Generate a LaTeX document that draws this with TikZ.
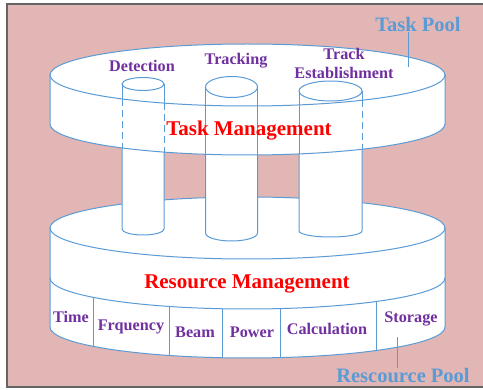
\documentclass[tikz,border=0pt]{standalone}
\usepackage{fontspec}
\setmainfont{Liberation Serif}
\definecolor{poolblue}{RGB}{91,155,213}
\definecolor{bgpink}{RGB}{226,182,180}
\definecolor{itempurple}{RGB}{112,48,160}
\definecolor{framegray}{RGB}{100,100,100}
\begin{document}
\begin{tikzpicture}[
    x=1pt, y=-1pt,
    rim/.style={draw=poolblue, line width=1pt},
    hid/.style={rim, dash pattern=on 7pt off 4pt},
    vis/.style={rim},
    item/.style={font=\bfseries\fontsize{16.2}{17}\selectfont, text=itempurple, inner sep=1pt},
    mgmt/.style={font=\bfseries\fontsize{21}{22}\selectfont, text=red},
    pool/.style={font=\bfseries\fontsize{20.5}{22}\selectfont, text=poolblue, inner sep=1pt}
]
\useasboundingbox (0,0) rectangle (483,390);

% Background and frame
\fill[white] (0,0) rectangle (483,390);
\fill[bgpink, draw=framegray, line width=1.5pt] (7,4) rectangle (490,387);

% Resource pool disk
\fill[white] (50,228) arc[start angle=180, end angle=360, x radius=197.5, y radius=31]
    -- (445,327) arc[start angle=0, end angle=180, x radius=197.5, y radius=31] -- cycle;
\draw[rim] (247.5,228) ellipse[x radius=197.5, y radius=31];
\draw[rim] (50,228) -- (50,327) arc[start angle=180, end angle=0, x radius=197.5, y radius=31] -- (445,228);
\draw[rim] (50,278) arc[start angle=180, end angle=0, x radius=197.5, y radius=31];
\foreach \x in {93,169,222,280,376} {
    \pgfmathsetmacro\dy{31*sqrt(1-((\x-247.5)/197.5)^2)}
    \draw[rim] (\x,278+\dy) -- (\x,327+\dy);
}

% Cylinders
\foreach \cx/\rx/\ty/\tr/\by/\br in {143/21/84/6.5/229/6, 231.5/26/87/10.5/233/8, 330.5/31.5/91/10/231/6} {
    \filldraw[rim, fill=white] (\cx-\rx,\ty) -- (\cx-\rx,\by)
        arc[start angle=180, end angle=0, x radius=\rx, y radius=\br] -- (\cx+\rx,\ty);
}

% Task pool disk
\fill[white] (50,75) arc[start angle=180, end angle=360, x radius=197.5, y radius=31]
    -- (445,124) arc[start angle=0, end angle=180, x radius=197.5, y radius=31] -- cycle;
\draw[rim] (247.5,75) ellipse[x radius=197.5, y radius=31];
\draw[rim] (50,75) -- (50,124) arc[start angle=180, end angle=0, x radius=197.5, y radius=31] -- (445,75);

% Cylinder tops and sides through the disk
\foreach \cx/\rx/\ty/\tr in {143/21/84/6.5, 231.5/26/87/10.5, 330.5/31.5/91/10}
    \filldraw[rim, fill=white] (\cx,\ty) ellipse[x radius=\rx, y radius=\tr];
\foreach \sx/\ty/\sty in {122/84/hid, 164/84/hid, 205.5/87/vis, 257.5/87/vis, 299/91/vis, 362/91/hid} {
    \pgfmathsetmacro\dy{31*sqrt(1-((\sx-247.5)/197.5)^2)}
    \draw[rim] (\sx,\ty) -- (\sx,75+\dy);
    \draw[\sty] (\sx,75+\dy) -- (\sx,124+\dy);
}

% Task labels
\node[item] (det) at (142,66) {Detection};
\node[item] (trk) at (236,61) {Tracking};
\node[item, align=center] (est) at (344,63) {Track\\[2pt]Establishment};
\node[mgmt] (tm) at (249,131) {Task Management};

% Resource labels
\node[mgmt] (rm) at (247,284) {Resource Management};
\node[item] (time) at (71,317) {Time};
\node[item] (freq) at (131,327) {Frquency};
\node[item] (beam) at (195,332) {Beam};
\node[item] (pow) at (252,332) {Power};
\node[item] (calc) at (327,329) {Calculation};
\node[item] (stor) at (411,319) {Storage};

% Pool callouts
\node[pool] (tpool) at (418,24) {Task Pool};
\coordinate (tpin) at (408,67);
\draw[rim] (tpool.south -| tpin) -- (tpin);
\node[pool] (rpool) at (403,376) {Rescource Pool};
\coordinate (rpin) at (397,337);
\draw[rim] (rpin) -- (rpool.north -| rpin);
\end{tikzpicture}
\end{document}
